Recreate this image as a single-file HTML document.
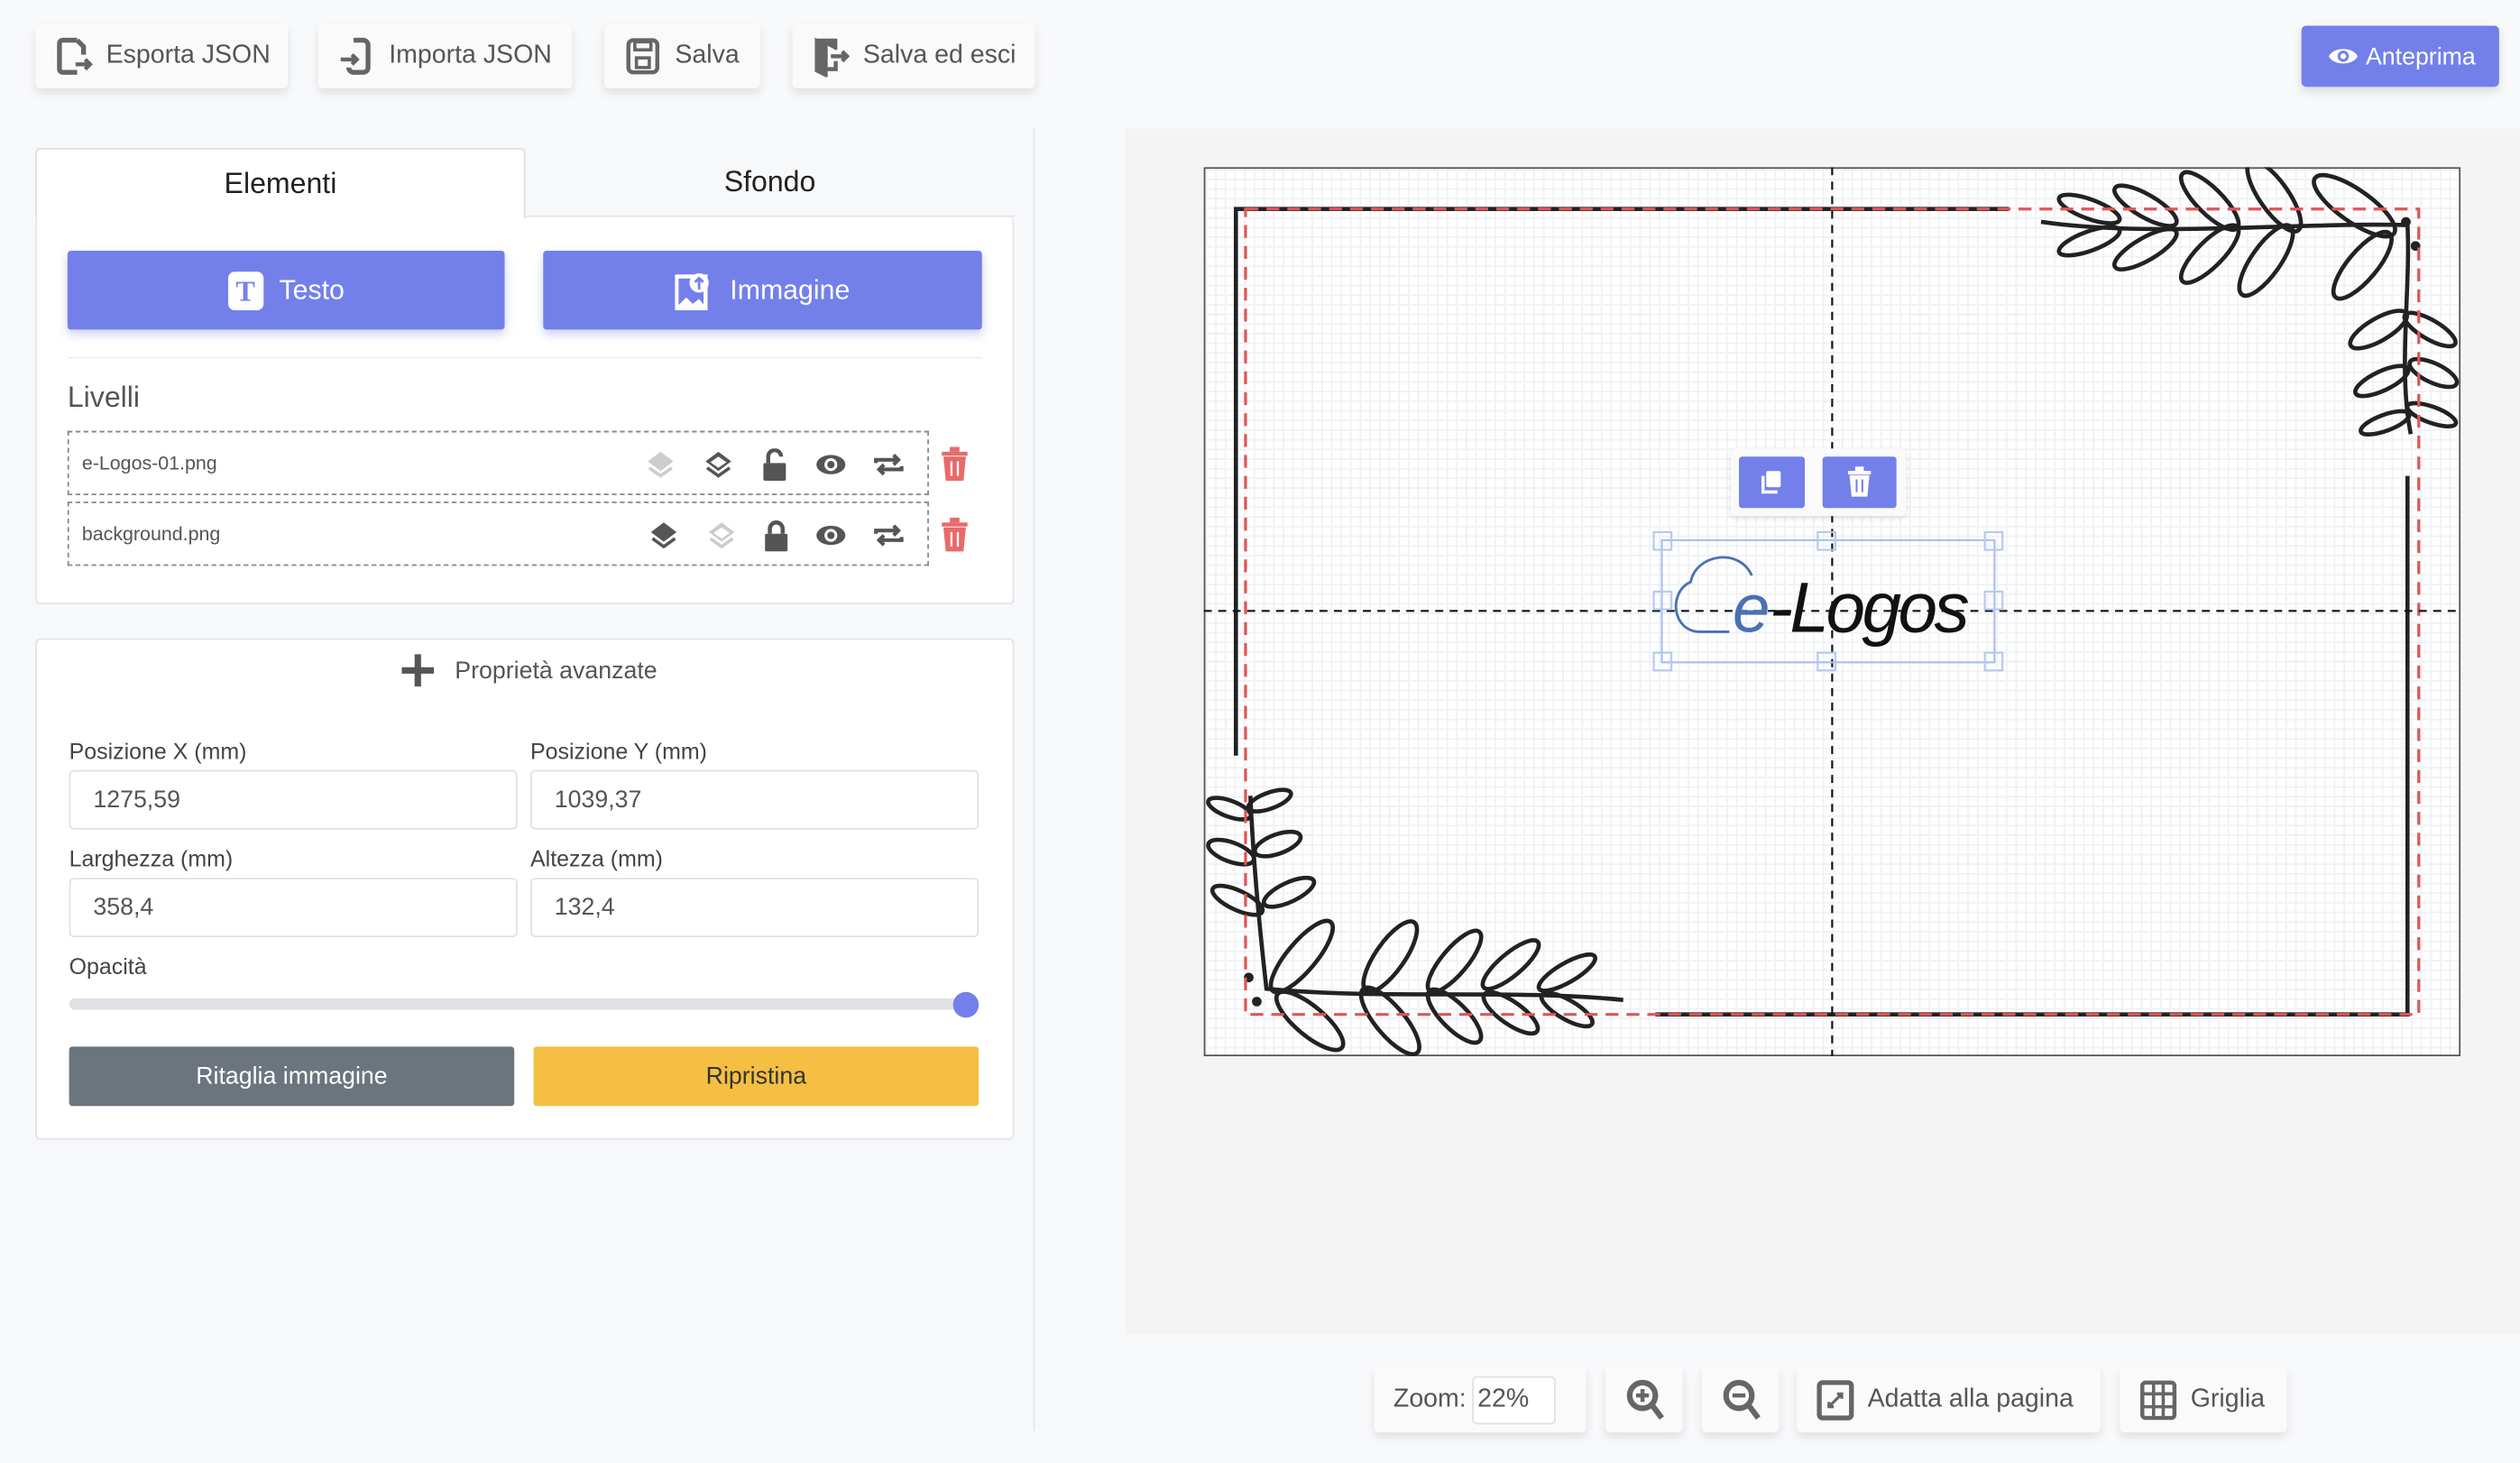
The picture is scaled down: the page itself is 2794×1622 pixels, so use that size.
<!DOCTYPE html>
<html><head><meta charset="utf-8">
<style>
*{box-sizing:border-box;margin:0;padding:0}
html,body{width:2794px;height:1622px;overflow:hidden;background:#f8f9fb;font-family:"Liberation Sans",sans-serif}
#w{position:absolute;left:0;top:0;width:1568px;height:910px;transform:scale(1.7819,1.7824);transform-origin:0 0;background:#f8f9fb}
.a{position:absolute}
.tb{position:absolute;background:#fafafa;box-shadow:0 3px 6px rgba(0,0,0,.1);border-radius:3px;color:#555;font-size:16px;display:flex;align-items:center;padding-left:12px;gap:8px}
.card{position:absolute;background:#fff;border:1px solid #e2e4e8;border-radius:3px}
.lbl{position:absolute;font-size:14px;color:#444}
.inp{position:absolute;height:37px;border:1px solid #dee2e6;border-radius:3px;background:#fff;font-size:15px;color:#555;padding:9px 14px}
.row{position:absolute;left:42px;width:536px;height:40px;border:1px dashed #888;font-size:12px;color:#555;padding:12px 8px}
.ic{position:absolute;top:10px;width:20px;height:20px}
</style></head><body><div id="w">
<div class="tb" style="left:22px;top:15px;width:157px;height:40px"><svg width="24" height="26" viewBox="0 0 24 26"><path d="M14 3H5a2 2 0 0 0-2 2v16a2 2 0 0 0 2 2h9M14 3l4 4v5" fill="none" stroke="#666" stroke-width="3"/><path d="M13 18h9M19 15l3 3-3 3" fill="none" stroke="#666" stroke-width="2.5"/></svg>Esporta JSON</div>
<div class="tb" style="left:198px;top:15px;width:158px;height:40px"><svg width="24" height="26" viewBox="0 0 24 26"><path d="M10 3h6a3 3 0 0 1 3 3v14a3 3 0 0 1-3 3h-6a3 3 0 0 1-3-3" fill="none" stroke="#666" stroke-width="3"/><path d="M2 15h10M9 12l3 3-3 3" fill="none" stroke="#666" stroke-width="2.5"/></svg>Importa JSON</div>
<div class="tb" style="left:376px;top:15px;width:97px;height:40px"><svg width="24" height="26" viewBox="0 0 24 26"><rect x="3" y="3" width="18" height="20" rx="3" fill="none" stroke="#666" stroke-width="2.5"/><rect x="7" y="4" width="10" height="5" fill="none" stroke="#666" stroke-width="2"/><rect x="8" y="14" width="8" height="6" fill="none" stroke="#666" stroke-width="2"/></svg>Salva</div>
<div class="tb" style="left:493px;top:15px;width:151px;height:40px"><svg width="24" height="26" viewBox="0 0 24 26"><path d="M3 3h12v6M3 3v19l6 3V6z" fill="#666" stroke="#666" stroke-width="2"/><path d="M15 16v5H9M12 13h10M19 10l3 3-3 3" fill="none" stroke="#666" stroke-width="2.5"/></svg>Salva ed esci</div>
<div class="a" style="left:1432px;top:16px;width:123px;height:38px;background:#7380ea;border-radius:3px;color:#fff;font-size:15px;display:flex;align-items:center;padding-left:16px;gap:4px;box-shadow:0 3px 6px rgba(0,0,0,.12)"><svg width="20" height="14" viewBox="0 0 20 14"><path d="M1 7C4 1 16 1 19 7 16 13 4 13 1 7z" fill="#fff"/><circle cx="10" cy="7" r="3.5" fill="#7380ea"/><circle cx="10" cy="7" r="1.8" fill="#fff"/></svg>Anteprima</div>

<div class="a" style="left:0;top:80px;width:644px;height:810px;background:#f7f8fa;border-right:1px solid #e6e7ea"></div>
<div class="a" style="left:700px;top:80px;width:868px;height:750px;background:#f4f4f4"></div>

<div class="card" style="left:22px;top:135px;width:609px;height:241px;border-top:none"></div>
<div class="a" style="left:326px;top:134px;width:305px;height:1px;background:#e2e4e8"></div>
<div class="a" style="left:22px;top:92px;width:305px;height:44px;background:#fff;border:1px solid #dcdee2;border-bottom:none;border-radius:3px 3px 0 0;font-size:18px;color:#222;text-align:center;line-height:42px">Elementi</div>
<div class="a" style="left:327px;top:92px;width:304px;height:42px;font-size:18px;color:#222;text-align:center;line-height:42px">Sfondo</div>
<div class="a" style="left:42px;top:156px;width:272px;height:49px;background:#7380ea;border-radius:2px;box-shadow:0 3px 6px rgba(115,128,234,.35);color:#fff;font-size:17px;display:flex;align-items:center;justify-content:center;gap:10px"><span style="width:22px;height:24px;background:#fff;border-radius:4px;color:#7380ea;font:bold 18px 'Liberation Serif',serif;text-align:center;line-height:24px">T</span>Testo</div>
<div class="a" style="left:338px;top:156px;width:273px;height:49px;background:#7380ea;border-radius:2px;box-shadow:0 3px 6px rgba(115,128,234,.35);color:#fff;font-size:17px;display:flex;align-items:center;justify-content:center;gap:10px"><svg width="24" height="24" viewBox="0 0 24 24"><rect x="1" y="3" width="18" height="20" fill="none" stroke="#fff" stroke-width="2.5"/><path d="M1 22l6-6 4 4 4-3 4 5z" fill="#fff"/><circle cx="15" cy="7" r="6" fill="#fff"/><path d="M15 11V4M12.5 6.5L15 4l2.5 2.5" stroke="#7380ea" stroke-width="1.6" fill="none"/></svg>Immagine</div>
<div class="a" style="left:42px;top:222px;width:569px;height:1px;background:#eceef1"></div>
<div class="a" style="left:42px;top:237px;font-size:18px;color:#555">Livelli</div>

<div class="row" style="top:268px">e-Logos-01.png
<svg class="ic" style="left:358px" viewBox="0 0 20 20"><path d="M10 2l8 6-8 6-8-6z" fill="#ccc"/><path d="M3 12l7 5 7-5" fill="none" stroke="#ccc" stroke-width="2"/></svg>
<svg class="ic" style="left:394px" viewBox="0 0 20 20"><path d="M10 2l8 6-8 6-8-6z" fill="#555"/><path d="M10 5l5 3.5-5 3.5-5-3.5z" fill="#fff"/><path d="M3 12l7 5 7-5" fill="none" stroke="#555" stroke-width="2"/></svg>
<svg class="ic" style="left:429px" viewBox="0 0 20 20"><rect x="3" y="9" width="14" height="11" rx="1" fill="#555"/><path d="M6 9V5a4 4 0 0 1 8 0" fill="none" stroke="#555" stroke-width="2.5"/></svg>
<svg class="ic" style="left:464px" viewBox="0 0 20 20"><ellipse cx="10" cy="10" rx="9" ry="6" fill="#555"/><circle cx="10" cy="10" r="4" fill="#fff"/><circle cx="10" cy="10" r="2.3" fill="#555"/></svg>
<svg class="ic" style="left:500px" viewBox="0 0 20 20"><path d="M2 9V7h14M13 4l3 3-3 3M18 11v2H4M7 10l-3 3 3 3" fill="none" stroke="#555" stroke-width="2.3"/></svg>
</div>
<div class="row" style="top:312px">background.png
<svg class="ic" style="left:360px" viewBox="0 0 20 20"><path d="M10 2l8 6-8 6-8-6z" fill="#555"/><path d="M3 12l7 5 7-5" fill="none" stroke="#555" stroke-width="2"/></svg>
<svg class="ic" style="left:396px" viewBox="0 0 20 20"><path d="M10 2l8 6-8 6-8-6z" fill="#ccc"/><path d="M10 5l5 3.5-5 3.5-5-3.5z" fill="#fff"/><path d="M3 12l7 5 7-5" fill="none" stroke="#ccc" stroke-width="2"/></svg>
<svg class="ic" style="left:430px" viewBox="0 0 20 20"><rect x="3" y="9" width="14" height="11" rx="1" fill="#555"/><path d="M6 9V6a4 4 0 0 1 8 0v3" fill="none" stroke="#555" stroke-width="2.5"/></svg>
<svg class="ic" style="left:464px" viewBox="0 0 20 20"><ellipse cx="10" cy="10" rx="9" ry="6" fill="#555"/><circle cx="10" cy="10" r="4" fill="#fff"/><circle cx="10" cy="10" r="2.3" fill="#555"/></svg>
<svg class="ic" style="left:500px" viewBox="0 0 20 20"><path d="M2 9V7h14M13 4l3 3-3 3M18 11v2H4M7 10l-3 3 3 3" fill="none" stroke="#555" stroke-width="2.3"/></svg>
</div>
<svg class="a" style="left:585px;top:278px" width="18" height="22" viewBox="0 0 18 22"><rect x="1" y="3" width="16" height="2.5" fill="#e86a6a"/><rect x="6" y="0" width="6" height="3" fill="#e86a6a"/><path d="M2 6h14l-1.5 15h-11z" fill="#e86a6a"/><path d="M7 9v9M11 9v9" stroke="#fff" stroke-width="1.3"/></svg>
<svg class="a" style="left:585px;top:322px" width="18" height="22" viewBox="0 0 18 22"><rect x="1" y="3" width="16" height="2.5" fill="#e86a6a"/><rect x="6" y="0" width="6" height="3" fill="#e86a6a"/><path d="M2 6h14l-1.5 15h-11z" fill="#e86a6a"/><path d="M7 9v9M11 9v9" stroke="#fff" stroke-width="1.3"/></svg>

<div class="card" style="left:22px;top:397px;width:609px;height:312px"></div>
<div class="a" style="left:249px;top:406px;font-size:15px;color:#555;display:flex;align-items:center;gap:12px"><svg width="22" height="22" viewBox="0 0 22 22"><path d="M11 1v20M1 11h20" stroke="#555" stroke-width="4"/></svg>Proprietà avanzate</div>
<div class="lbl" style="left:43px;top:459px">Posizione X (mm)</div>
<div class="lbl" style="left:330px;top:459px">Posizione Y (mm)</div>
<div class="inp" style="left:43px;top:479px;width:279px">1275,59</div>
<div class="inp" style="left:330px;top:479px;width:279px">1039,37</div>
<div class="lbl" style="left:43px;top:526px">Larghezza (mm)</div>
<div class="lbl" style="left:330px;top:526px">Altezza (mm)</div>
<div class="inp" style="left:43px;top:546px;width:279px">358,4</div>
<div class="inp" style="left:330px;top:546px;width:279px">132,4</div>
<div class="lbl" style="left:43px;top:593px">Opacità</div>
<div class="a" style="left:43px;top:621px;width:558px;height:7px;background:#dfe1e4;border-radius:4px"></div>
<div class="a" style="left:593px;top:617px;width:16px;height:16px;background:#7380ea;border-radius:50%"></div>
<div class="a" style="left:43px;top:651px;width:277px;height:37px;background:#6c757d;border-radius:2px;color:#fff;font-size:15px;text-align:center;line-height:37px">Ritaglia immagine</div>
<div class="a" style="left:332px;top:651px;width:277px;height:37px;background:#f4bf42;border-radius:2px;color:#333;font-size:15px;text-align:center;line-height:37px">Ripristina</div>

<div class="a" style="left:749px;top:104px;width:782px;height:553px;border:1px solid #555;background-color:#fff;background-image:linear-gradient(#f0f2f5 1px,transparent 1px),linear-gradient(90deg,#f0f2f5 1px,transparent 1px);background-size:6px 6px"></div>
<svg class="a" style="left:749px;top:104px" width="782" height="553" viewBox="749 104 782 553">
<g fill="none" stroke="#222" stroke-width="2.6">
<path d="M769 470V130H1250M1498 296V631H1030"/>
<path d="M1270 138C1340 148 1430 138 1498 140 1500 180 1492 230 1500 270"/>
<ellipse cx="1300" cy="130" rx="20" ry="6" transform="rotate(20 1300 130)"/><ellipse cx="1300" cy="150" rx="20" ry="6" transform="rotate(-20 1300 150)"/>
<ellipse cx="1335" cy="128" rx="22" ry="7" transform="rotate(30 1335 128)"/><ellipse cx="1335" cy="155" rx="22" ry="7" transform="rotate(-30 1335 155)"/>
<ellipse cx="1375" cy="125" rx="24" ry="8" transform="rotate(45 1375 125)"/><ellipse cx="1375" cy="158" rx="24" ry="8" transform="rotate(-45 1375 158)"/>
<ellipse cx="1415" cy="122" rx="26" ry="9" transform="rotate(55 1415 122)"/><ellipse cx="1410" cy="162" rx="26" ry="9" transform="rotate(-55 1410 162)"/>
<ellipse cx="1465" cy="128" rx="30" ry="10" transform="rotate(35 1465 128)"/><ellipse cx="1470" cy="165" rx="26" ry="9" transform="rotate(-50 1470 165)"/>
<ellipse cx="1480" cy="205" rx="20" ry="7" transform="rotate(-30 1480 205)"/><ellipse cx="1512" cy="205" rx="18" ry="6" transform="rotate(30 1512 205)"/>
<ellipse cx="1482" cy="237" rx="18" ry="6" transform="rotate(-25 1482 237)"/><ellipse cx="1514" cy="232" rx="16" ry="6" transform="rotate(25 1514 232)"/>
<ellipse cx="1484" cy="263" rx="16" ry="5" transform="rotate(-20 1484 263)"/><ellipse cx="1513" cy="258" rx="16" ry="5" transform="rotate(20 1513 258)"/>
<path d="M778 495C780 540 784 580 788 615 860 622 940 615 1010 622"/>
<ellipse cx="765" cy="503" rx="14" ry="5" transform="rotate(20 765 503)"/><ellipse cx="790" cy="498" rx="14" ry="5" transform="rotate(-20 790 498)"/>
<ellipse cx="766" cy="530" rx="15" ry="6" transform="rotate(20 766 530)"/><ellipse cx="795" cy="525" rx="15" ry="6" transform="rotate(-20 795 525)"/>
<ellipse cx="770" cy="560" rx="17" ry="6" transform="rotate(25 770 560)"/><ellipse cx="802" cy="555" rx="17" ry="6" transform="rotate(-25 802 555)"/>
<ellipse cx="810" cy="595" rx="28" ry="9" transform="rotate(-50 810 595)"/><ellipse cx="815" cy="635" rx="26" ry="9" transform="rotate(40 815 635)"/>
<ellipse cx="865" cy="595" rx="26" ry="9" transform="rotate(-55 865 595)"/><ellipse cx="865" cy="635" rx="26" ry="9" transform="rotate(50 865 635)"/>
<ellipse cx="905" cy="598" rx="24" ry="8" transform="rotate(-50 905 598)"/><ellipse cx="905" cy="632" rx="22" ry="8" transform="rotate(45 905 632)"/>
<ellipse cx="940" cy="600" rx="22" ry="7" transform="rotate(-40 940 600)"/><ellipse cx="940" cy="630" rx="20" ry="7" transform="rotate(35 940 630)"/>
<ellipse cx="975" cy="605" rx="20" ry="6" transform="rotate(-30 975 605)"/><ellipse cx="975" cy="628" rx="18" ry="6" transform="rotate(30 975 628)"/>
</g>
<circle cx="1497" cy="138" r="3" fill="#222"/><circle cx="1503" cy="153" r="3" fill="#222"/><circle cx="777" cy="608" r="3" fill="#222"/><circle cx="782" cy="623" r="3" fill="#222"/>
<rect x="775" y="130" width="730" height="501" fill="none" stroke="#e05555" stroke-width="1.8" stroke-dasharray="8 5"/>
<path d="M1140 104V657M749 380H1531" stroke="#111" stroke-width="1.2" stroke-dasharray="5 4"/>
<rect x="1034" y="336" width="207" height="76" fill="none" stroke="#a9c0ec" stroke-width="1.2"/>
<g fill="none" stroke="#b5c8ef" stroke-width="1.2"><rect x="1029" y="331" width="11" height="11"/><rect x="1131" y="331" width="11" height="11"/><rect x="1235" y="331" width="11" height="11"/><rect x="1029" y="368" width="11" height="11"/><rect x="1235" y="368" width="11" height="11"/><rect x="1029" y="406" width="11" height="11"/><rect x="1131" y="406" width="11" height="11"/><rect x="1235" y="406" width="11" height="11"/></g>
<path d="M1076 393H1058C1040 393 1038 368 1052 362 1055 345 1082 340 1090 358" fill="none" stroke="#4a72b0" stroke-width="1.6"/>
<text x="1078" y="393" font-family="Liberation Sans,sans-serif" font-style="italic" font-size="42" fill="#4a72b0">e</text>
<text x="1101" y="393" font-family="Liberation Sans,sans-serif" font-style="italic" font-size="44" fill="#111" letter-spacing="-2">-Logos</text>
</svg>
<div class="a" style="left:1077px;top:279px;width:109px;height:42px;background:#fafafa;border-radius:3px;box-shadow:0 1px 4px rgba(0,0,0,.12)"></div>
<div class="a" style="left:1082px;top:284px;width:41px;height:32px;background:#7380ea;border-radius:2px"></div>
<svg class="a" style="left:1095px;top:292px" width="15" height="16" viewBox="0 0 15 16"><rect x="4" y="1" width="9" height="10" rx="1" fill="#fff"/><path d="M2 4v10h9" fill="none" stroke="#fff" stroke-width="2"/></svg>
<div class="a" style="left:1134px;top:284px;width:46px;height:32px;background:#7380ea;border-radius:2px"></div>
<svg class="a" style="left:1149px;top:290px" width="16" height="20" viewBox="0 0 18 22"><rect x="1" y="3" width="16" height="2.5" fill="#fff"/><rect x="6" y="0" width="6" height="3" fill="#fff"/><path d="M2 6h14l-1.5 15h-11z" fill="#fff"/><path d="M7 9v9M11 9v9" stroke="#7380ea" stroke-width="1.3"/></svg>

<div class="tb" style="left:855px;top:850px;width:132px;height:41px">Zoom: <span style="display:inline-block;width:52px;height:30px;background:#fff;border:1px solid #e0e0e0;border-radius:3px;padding:5px 2px;margin-left:-4px">22%</span></div>
<div class="tb" style="left:999px;top:850px;width:48px;height:41px"><svg width="26" height="28" viewBox="0 0 26 28"><circle cx="11" cy="11" r="8" fill="none" stroke="#666" stroke-width="3.5"/><path d="M17 17l6 8" stroke="#666" stroke-width="3.5"/><path d="M11 7v8M7 11h8" stroke="#666" stroke-width="2.5"/></svg></div>
<div class="tb" style="left:1059px;top:850px;width:48px;height:41px"><svg width="26" height="28" viewBox="0 0 26 28"><circle cx="11" cy="11" r="8" fill="none" stroke="#666" stroke-width="3.5"/><path d="M17 17l6 8" stroke="#666" stroke-width="3.5"/><path d="M7 11h8" stroke="#666" stroke-width="2.5"/></svg></div>
<div class="tb" style="left:1118px;top:850px;width:189px;height:41px"><svg width="24" height="26" viewBox="0 0 24 26"><rect x="2" y="2" width="20" height="22" rx="2" fill="none" stroke="#666" stroke-width="3"/><path d="M8 17l8-8M13 9h3v3M8 14v3h3" fill="none" stroke="#666" stroke-width="1.8"/></svg>Adatta alla pagina</div>
<div class="tb" style="left:1319px;top:850px;width:104px;height:41px"><svg width="24" height="26" viewBox="0 0 24 26"><rect x="2" y="2" width="20" height="22" rx="2" fill="none" stroke="#666" stroke-width="2.5"/><path d="M9 2v22M15 2v22M2 9h20M2 17h20" stroke="#666" stroke-width="2"/></svg>Griglia</div>
</div></body></html>
